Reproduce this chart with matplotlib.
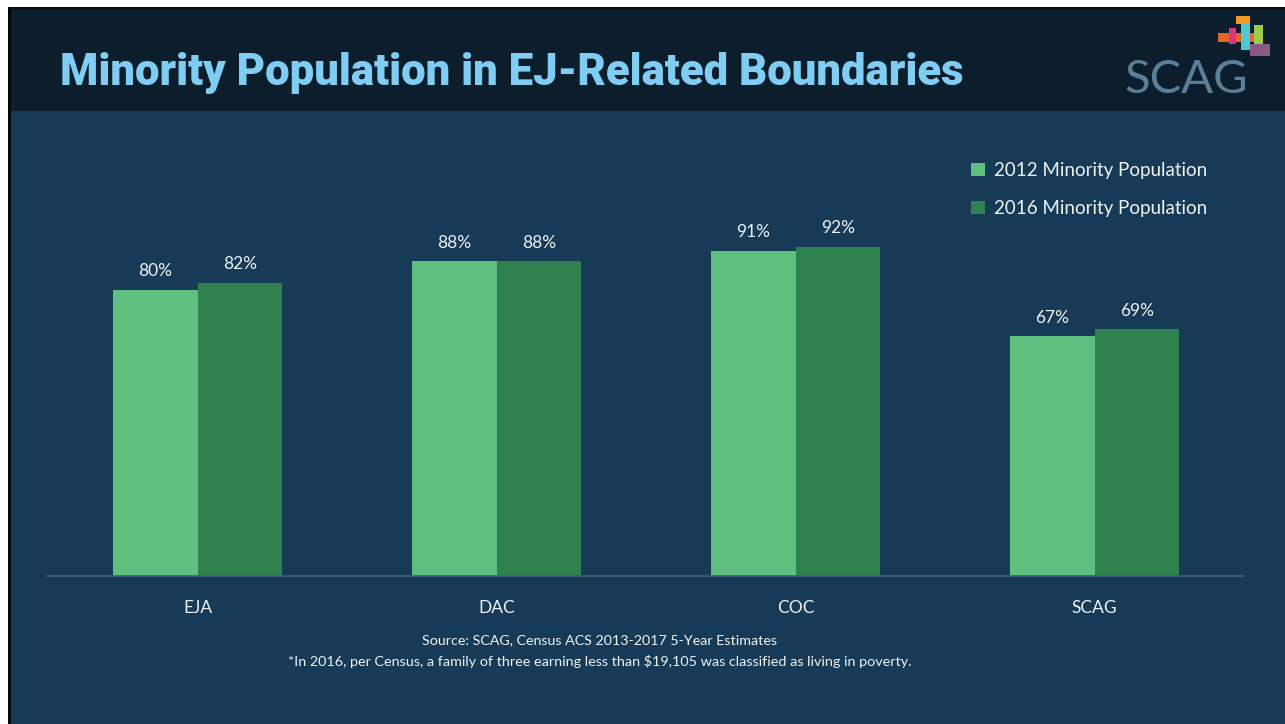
import matplotlib.pyplot as plt
from matplotlib.patches import Rectangle
import numpy as np

categories = ['EJA', 'DAC', 'COC', 'SCAG']
pop_2012 = [80, 88, 91, 67]
pop_2016 = [82, 88, 92, 69]
series_names = ['2012 Minority Population', '2016 Minority Population']

W, H = 1285, 724
bg_body = '#173a56'
bg_head = '#0c1e2c'
green_light = '#5fbf7f'
green_dark = '#2f814e'
txt = '#eef2f5'

fig = plt.figure(figsize=(W / 100, H / 100), dpi=100)
fig.patch.set_facecolor('white')

# slide background, header band and frame lines (pixel coords via figure fraction)
def px(x, y, w, h):
    return (x / W, 1 - (y + h) / H, w / W, h / H)

def rect(x, y, w, h, color):
    l, b, ww, hh = px(x, y, w, h)
    fig.patches.append(Rectangle((l, b), ww, hh, transform=fig.transFigure,
                                 facecolor=color, edgecolor='none', zorder=-10))

rect(8, 7, W - 8, H - 7, bg_body)
rect(8, 7, W - 8, 104, bg_head)
rect(8, 7, W - 8, 2, '#05090d')
rect(8, 7, 3, H - 7, '#05090d')

fig.text(60 / W, 1 - 73 / H, 'Minority Population in EJ-Related Boundaries',
         color='#80cdf3', fontsize=31.5, fontweight='heavy', family='Roboto',
         va='center', ha='left')

# SCAG logo: grey-blue text plus small coloured blocks
fig.text(1186 / W, 1 - 80 / H, 'SCAG', color='#5c7f99', fontsize=34,
         family='Lato', va='center', ha='center')
for (x, y, w, h, c) in [(1218, 33, 40, 9, '#e8632a'), (1241, 20, 9, 30, '#4fc8cf'),
                        (1229, 28, 7, 16, '#d6377f'), (1254, 25, 9, 22, '#9ccb4f'),
                        (1250, 44, 20, 12, '#8a5a86'), (1236, 16, 14, 8, '#f59a23')]:
    rect(x, y, w, h, c)

# bar chart area: baseline at y=576, 100% at y=218.5
ax = fig.add_axes(px(48, 218.5, 1196, 357.5))
ax.set_facecolor('none')
x = np.arange(len(categories))
bw = 0.284
b1 = ax.bar(x - bw / 2, pop_2012, bw, color=green_light, label=series_names[0])
b2 = ax.bar(x + bw / 2, pop_2016, bw, color=green_dark, label=series_names[1])
for bars in (b1, b2):
    for r in bars:
        ax.text(r.get_x() + r.get_width() / 2, r.get_height() + 3,
                '%d%%' % r.get_height(), ha='center', va='bottom',
                color=txt, fontsize=12.5, family='Lato')

ax.set_xlim(-0.5, 3.5)
ax.set_ylim(0, 100)
ax.set_yticks([])
ax.set_xticks(x)
ax.set_xticklabels(categories, color=txt, fontsize=12.5, family='Lato')
ax.tick_params(axis='x', length=0, pad=17)
for s in ['top', 'right', 'left']:
    ax.spines[s].set_visible(False)
ax.spines['bottom'].set_color('#3f5d76')
ax.spines['bottom'].set_linestyle((0, (2, 1)))
ax.spines['bottom'].set_linewidth(1.2)

leg = fig.legend(loc='upper left', bbox_to_anchor=(962 / W, 1 - 153 / H),
                 frameon=False, fontsize=13.5, handlelength=0.7, handleheight=0.7,
                 handletextpad=0.5, labelspacing=1.1, borderpad=0)
for t in leg.get_texts():
    t.set_color(txt)
    t.set_family('Lato')

fig.text(600 / W, 1 - 640 / H, 'Source: SCAG, Census ACS 2013-2017 5-Year Estimates',
         color=txt, fontsize=10.3, family='Lato', ha='center', va='center')
fig.text(600 / W, 1 - 661 / H,
         '*In 2016, per Census, a family of three earning less than $19,105 was classified as living in poverty.',
         color=txt, fontsize=10.4, family='Lato', ha='center', va='center')

fig.savefig('out.png', dpi=100)
